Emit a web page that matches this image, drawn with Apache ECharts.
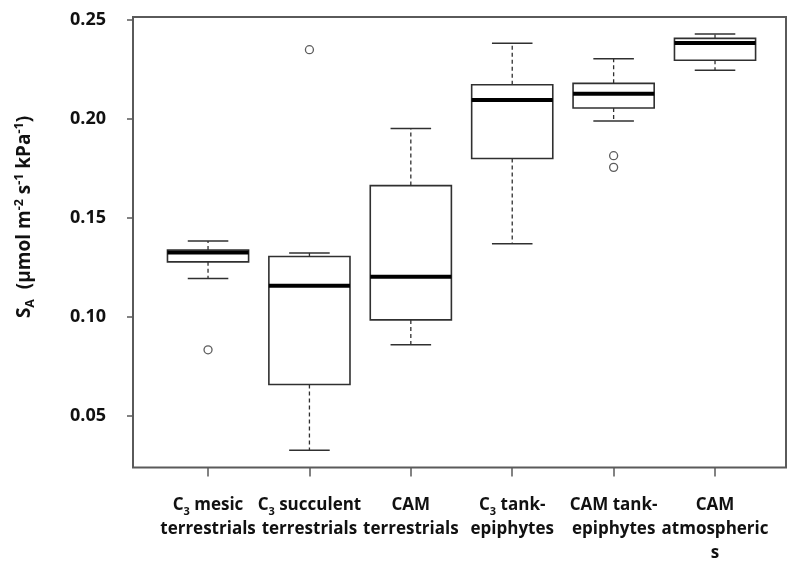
<!DOCTYPE html>
<html>
<head>
<meta charset="utf-8">
<script src="https://cdn.jsdelivr.net/npm/echarts@6/dist/echarts.min.js"></script>
<style>
html,body{margin:0;padding:0;background:#fff;}
#chart{width:787px;height:562px;}
</style>
</head>
<body>
<div id="chart"></div>
<script>
// ---- data ----
const categories = ['C3 mesic\nterrestrials', 'C3 succulent\nterrestrials', 'CAM\nterrestrials', 'C3 tank-\nepiphytes', 'CAM tank-\nepiphytes', 'CAM\natmospheric\ns'];
const positions = [1, 2, 3, 4, 5, 6];
const lowerWhisker = [0.1194, 0.0327, 0.0860, 0.1370, 0.1989, 0.2245];
const q1 = [0.1278, 0.0659, 0.0985, 0.1800, 0.2055, 0.2296];
const median = [0.1325, 0.1158, 0.1203, 0.2095, 0.2127, 0.2383];
const q3 = [0.1338, 0.1305, 0.1663, 0.2172, 0.2179, 0.2406];
const upperWhisker = [0.1383, 0.1323, 0.1951, 0.2381, 0.2303, 0.2428];
const outlierGroup = [1, 2, 5, 5];
const outlierValue = [0.0834, 0.2349, 0.1814, 0.1755];
const yTicks = [0.05, 0.10, 0.15, 0.20, 0.25];

// ---- build ----
const boxData = positions.map((p, i) => [p, lowerWhisker[i], q1[i], median[i], q3[i], upperWhisker[i]]);
const outlierData = outlierGroup.map((g, i) => [g, outlierValue[i]]);

function fmtLabel(s) {
  return s.split('\n').map(line => {
    const m = line.match(/^C3(.*)$/);
    if (m) return '{n|C}{sub|3}{n|' + m[1] + '}';
    return '{n|' + line + '}';
  }).join('\n');
}

const FONT = '"Open Sans", "DejaVu Sans", sans-serif';
const FRAME = '#5a5a5a';
const chart = echarts.init(document.getElementById('chart'), null, {renderer: 'canvas'});

chart.setOption({
  animation: false,
  backgroundColor: '#ffffff',
  grid: {left: 133, top: 17, width: 653, height: 453, show: true, borderColor: FRAME, borderWidth: 2, backgroundColor: 'transparent'},
  xAxis: {
    type: 'value', min: 0.26, max: 6.70,
    splitLine: {show: false},
    axisLine: {show: false},
    axisTick: {show: true, customValues: positions, length: 9, lineStyle: {color: FRAME, width: 1.5}},
    axisLabel: {
      show: true, customValues: positions, margin: 26,
      formatter: v => fmtLabel(categories[Math.round(v) - 1] || ''),
      rich: {
        n: {fontFamily: FONT, fontWeight: 'bold', fontSize: 17, lineHeight: 24, color: '#111'},
        sub: {fontFamily: FONT, fontWeight: 'bold', fontSize: 11, lineHeight: 13, verticalAlign: 'bottom', color: '#111'}
      }
    }
  },
  yAxis: {
    type: 'value', min: 0.024, max: 0.2514,
    splitLine: {show: false},
    axisLine: {show: false},
    axisTick: {show: true, customValues: yTicks, length: 6, lineStyle: {color: FRAME, width: 1.5}},
    axisLabel: {
      show: true, customValues: yTicks, margin: 27,
      formatter: v => v.toFixed(2),
      fontFamily: FONT, fontWeight: 'bold', fontSize: 18, color: '#111'
    }
  },
  graphic: [{
    type: 'text', x: 25, y: 217, rotation: Math.PI / 2,
    style: {
      text: '{b|S}{sub|A}{b|  (μmol m}{sup|-2}{b| s}{sup|-1}{b| kPa}{sup|-1}{b|)}',
      align: 'center', verticalAlign: 'middle',
      rich: {
        b: {fontFamily: FONT, fontWeight: 'bold', fontSize: 19, lineHeight: 24, fill: '#111', color: '#111'},
        sup: {fontFamily: FONT, fontWeight: 'bold', fontSize: 12.5, lineHeight: 12, verticalAlign: 'top', fill: '#111', color: '#111'},
        sub: {fontFamily: FONT, fontWeight: 'bold', fontSize: 12.5, lineHeight: 13, verticalAlign: 'bottom', fill: '#111', color: '#111'}
      }
    }
  }],
  series: [
    {
      type: 'custom',
      data: boxData,
      encode: {x: 0, y: [1, 2, 3, 4, 5]},
      renderItem: function (params, api) {
        const x = api.value(0);
        const lw = api.value(1), a = api.value(2), md = api.value(3), b = api.value(4), uw = api.value(5);
        const halfBox = 0.4, halfStaple = 0.2;
        const c = (dx, v) => api.coord([x + dx, v]);
        const tl = c(-halfBox, b), br = c(halfBox, a);
        const boxStroke = '#303030';
        const line = (p1, p2, style) => ({type: 'line', shape: {x1: p1[0], y1: p1[1], x2: p2[0], y2: p2[1]}, style: style});
        const dashed = {stroke: boxStroke, lineWidth: 1.3, lineDash: [4, 3]};
        const solid = {stroke: boxStroke, lineWidth: 1.5};
        return {
          type: 'group',
          children: [
            line(c(0, b), c(0, uw), dashed),
            line(c(0, a), c(0, lw), dashed),
            line(c(-halfStaple, uw), c(halfStaple, uw), solid),
            line(c(-halfStaple, lw), c(halfStaple, lw), solid),
            {type: 'rect', shape: {x: tl[0], y: tl[1], width: br[0] - tl[0], height: br[1] - tl[1]}, style: {fill: '#fff', stroke: boxStroke, lineWidth: 1.6}},
            line(c(-halfBox, md), c(halfBox, md), {stroke: '#000', lineWidth: 4})
          ]
        };
      }
    },
    {
      type: 'scatter',
      data: outlierData,
      symbol: 'circle',
      symbolSize: 8,
      itemStyle: {color: '#fff', borderColor: '#333', borderWidth: 1.3}
    }
  ]
});
</script>
</body>
</html>
